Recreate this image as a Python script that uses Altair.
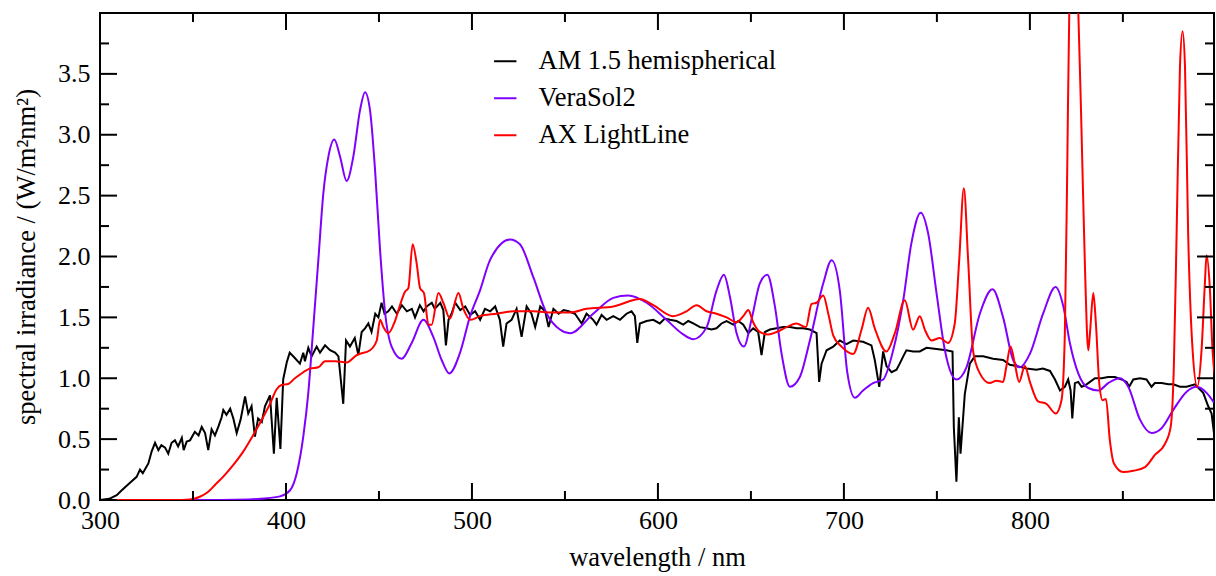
import altair as alt
import pandas as pd

# ---------------- data ----------------
AM15_NM = [300, 305, 309, 311.7, 316, 319.7, 321.5, 323, 326, 327.8, 329.6, 331.4, 333, 335, 336.7,
           338.5, 340.3, 342, 344, 345, 346.6, 348.4, 351, 353, 354.7, 356.5, 358.2, 360, 361.8, 363.6,
           365.4, 366.3, 368, 370, 371.7, 373.5, 375.6, 378, 379.7, 381.5, 383.3, 385, 387, 388.7, 391.4,
           393.5, 395, 397, 398.5, 400.4, 402, 404.5, 407.5, 409.3, 410.2, 412, 413.8, 416.5, 418.3, 421,
           423.7, 426.4, 428.2, 430.8, 432.3, 434.4, 437, 438.9, 440.7, 442.5, 444.3, 446, 448, 449.7,
           451.4, 453, 455, 457, 459.6, 462.3, 465, 467.7, 469.4, 472, 474, 475.7, 478.4, 480, 483, 484.6,
           486, 487.4, 489, 491, 493.7, 496.4, 499, 501.7, 504.4, 507, 509.8, 512.5, 515, 516.8, 518.6,
           521.3, 524, 526.7, 529.4, 532, 534, 536.7, 539.4, 541.2, 543.8, 546.6, 549.3, 552, 555.4, 559,
           561.6, 565.2, 567, 569.7, 572.4, 576, 579.6, 583.1, 585.8, 587.6, 588.9, 590.3, 593.9, 597.5,
           601, 603.7, 606.4, 610, 613.6, 616.3, 619, 622.6, 626.2, 628.8, 631.5, 634.2, 636.9, 640.5,
           643.2, 645.9, 648.6, 651.2, 653.9, 655.7, 657.5, 660.2, 663.8, 667.4, 671, 674.5, 678.1, 681.7,
           685.3, 686.7, 688, 690.7, 694.3, 697.8, 701.4, 705, 710.3, 714.8, 716.6, 719, 721.1, 722.9,
           725.6, 728.3, 730, 731.9, 733.6, 737.2, 740.8, 744.4, 749.8, 755.1, 758.4, 759.1, 760.5, 761.8,
           762.7, 765, 767.7, 770.4, 774.9, 780.2, 785.6, 789.2, 792.8, 798.2, 803.5, 807, 810.8, 813.5,
           816.2, 818.8, 820.6, 821.9, 822.8, 824.2, 826, 827.8, 829.6, 832.3, 835, 838.6, 842.1, 845.7,
           849.3, 852, 853.4, 855.6, 859.2, 862.7, 865.4, 867.2, 870.8, 874.4, 877.1, 880.7, 884.3, 888.7,
           893.2, 895.9, 897.7, 899]
AM15_VAL = [0.00, 0.01, 0.04, 0.08, 0.14, 0.19, 0.25, 0.22, 0.30, 0.40, 0.47, 0.41, 0.45, 0.43, 0.38,
            0.47, 0.49, 0.44, 0.51, 0.41, 0.48, 0.49, 0.56, 0.53, 0.60, 0.55, 0.41, 0.58, 0.53, 0.60,
            0.68, 0.74, 0.70, 0.75, 0.67, 0.55, 0.66, 0.85, 0.71, 0.77, 0.52, 0.67, 0.64, 0.77, 0.86,
            0.38, 0.84, 0.42, 0.99, 1.13, 1.21, 1.17, 1.12, 1.21, 1.14, 1.25, 1.18, 1.26, 1.21, 1.27,
            1.23, 1.21, 1.18, 0.79, 1.31, 1.26, 1.33, 1.19, 1.38, 1.41, 1.45, 1.38, 1.53, 1.50,
            1.62, 1.53, 1.55, 1.59, 1.53, 1.60, 1.55, 1.57, 1.50, 1.60, 1.55, 1.59, 1.62, 1.57, 1.62, 1.56,
            1.27, 1.48, 1.53, 1.62, 1.56, 1.59, 1.52, 1.55, 1.48, 1.57, 1.55, 1.59, 1.48, 1.26, 1.45,
            1.48, 1.57, 1.34, 1.59, 1.53, 1.42, 1.59, 1.55, 1.42, 1.57, 1.53, 1.56, 1.55, 1.53, 1.45,
            1.53, 1.48, 1.44, 1.52, 1.48, 1.51, 1.48, 1.53, 1.55, 1.51, 1.29, 1.45, 1.47, 1.48,
            1.45, 1.49, 1.48, 1.47, 1.44, 1.47, 1.45, 1.42, 1.41, 1.40, 1.41, 1.45, 1.47, 1.44,
            1.47, 1.44, 1.37, 1.41, 1.38, 1.19, 1.38, 1.40, 1.41, 1.42, 1.42, 1.41, 1.41, 1.40,
            1.37, 0.97, 1.12, 1.23, 1.26, 1.31, 1.28, 1.31, 1.30, 1.27, 1.15, 0.93, 1.22, 1.10,
            1.05, 1.07, 1.12, 1.18, 1.23, 1.22, 1.22, 1.25, 1.24, 1.23, 1.22, 0.60, 0.15, 0.68,
            0.38, 0.87, 1.12, 1.18, 1.18, 1.16, 1.15, 1.11, 1.10, 1.08, 1.07, 1.08, 1.06, 0.99,
            0.90, 0.93, 0.99, 0.90, 0.67, 0.96, 0.97, 0.93, 0.94, 0.97, 1.00, 1.00, 1.01, 1.01,
            0.99, 0.97, 0.93, 0.99, 1.00, 0.99, 0.93, 0.96, 0.96, 0.95, 0.95, 0.93, 0.93, 0.95,
            0.88, 0.77, 0.71, 0.55]

VERA_NM = [300, 350, 380, 390, 396.8, 402.2, 405.8, 409.3, 412, 414.7, 417.4, 420.1, 422.8, 426, 429.1,
           432.6, 436.2, 439.8, 442.5, 445.2, 447.9, 450.6, 453.3, 456.8, 462.2, 467.6, 473.9, 479.2,
           483.7, 487.8, 493.6, 499, 504.3, 509.7, 520.5, 525.8, 533, 540.2, 547.3, 552.7, 565.2, 576,
           584, 593.9, 604.6, 613.6, 619, 626.2, 631.5, 635.5, 638.7, 642.3, 646.2, 650.3, 654.8, 658.8,
           662.9, 666.5, 671, 676.3, 681.7, 688.9, 693.4, 697.8, 701.8, 705.9, 710.3, 715.7, 721.1,
           726.5, 731.9, 736.3, 741.3, 745.3, 749.8, 754.3, 760.5, 765.9, 773.1, 779.9, 785.6, 791,
           794.6, 800, 807.1, 813.8, 818, 821.5, 826, 831.4, 836.8, 842.1, 848.4, 852.9, 859.2, 865.4,
           870.8, 877.1, 884.3, 889.6, 895, 899]
VERA_VAL = [0.0, 0.0, 0.005, 0.015, 0.03, 0.08, 0.22, 0.52, 0.88, 1.42, 1.97, 2.52, 2.82, 2.96, 2.82,
            2.62, 2.82, 3.20, 3.35, 3.20, 2.71, 2.05, 1.54, 1.26, 1.16, 1.29, 1.48, 1.34,
            1.15, 1.04, 1.21, 1.51, 1.72, 1.97, 2.14, 2.10, 1.83, 1.53, 1.40, 1.37, 1.53, 1.66,
            1.68, 1.62, 1.48, 1.36, 1.32, 1.42, 1.72, 1.85, 1.67, 1.37, 1.26, 1.48, 1.78, 1.85,
            1.59, 1.20, 0.93, 1.01, 1.31, 1.78, 1.97, 1.72, 1.05, 0.84, 0.90, 0.96, 0.99,
            1.23, 1.64, 2.11, 2.36, 2.19, 1.70, 1.23, 0.99, 1.09, 1.53, 1.73, 1.50, 1.15,
            1.09, 1.20, 1.53, 1.75, 1.59, 1.29, 1.04, 0.92, 0.90, 0.96, 1.00, 0.93, 0.66, 0.55,
            0.59, 0.74, 0.89, 0.93, 0.88, 0.80]

AX_NM = [300, 340, 348.4, 353.7, 358.2, 361.8, 366.3, 371.7, 377, 382.4, 386.9, 391.4, 395, 397.6,
         401.2, 404.8, 407.5, 413, 417.4, 421, 426.4, 432.6, 438, 445.2, 448.8, 450.6, 452.4, 455,
         458.6, 461.3, 464, 465.8, 468.1, 470.3, 472.1, 474.2, 476.6, 478.3, 482, 484.6, 488.2,
         492.7, 495.4, 499.3, 504.3, 513.3, 522.2, 533, 543.8, 552.7, 561.6, 576, 590.3, 597.5,
         608.2, 615.4, 620.8, 626.2, 631.5, 636.9, 642.3, 645.9, 648.6, 651.2, 654.8, 659.3, 663.8,
         669.2, 674.5, 679.6, 682.6, 685.3, 688.9, 691.6, 694.3, 698.7, 705, 709.5, 713, 716.6,
         722.9, 727.4, 732.7, 737.2, 740.8, 743.5, 747.1, 751.6, 756, 759.6, 762, 764.5, 766.8,
         769.5, 773.1, 778.4, 782, 785.6, 787.4, 789.6, 791.9, 794.2, 797.3, 800, 804.4, 808.9,
         813.9, 817, 818.8, 820.1, 821.2, 823.5, 826, 827.8, 829.6, 831.4, 832.3, 834.1, 835.5,
         837.3, 839.1, 840.9, 843, 845.2, 850.2, 855.6, 861.9, 867.2, 872.6, 875.7, 877.4, 878.9,
         880.7, 882.1, 883.4, 885.1, 887.5, 890, 892.3, 894.1, 895, 896.8, 898.2, 899.5]
AX_VAL = [0.0, 0.0, 0.005, 0.027, 0.068, 0.123, 0.192, 0.288, 0.397, 0.534, 0.657, 0.79, 0.91, 0.945,
          0.953, 1.0, 1.03, 1.08, 1.09, 1.14, 1.14, 1.13, 1.19, 1.23, 1.31, 1.48, 1.42, 1.37,
          1.47, 1.60, 1.71, 1.74, 2.10, 1.94, 1.74, 1.70, 1.44, 1.44, 1.70, 1.62, 1.49,
          1.70, 1.57, 1.48, 1.51, 1.53, 1.55, 1.55, 1.54, 1.54, 1.57, 1.59, 1.65, 1.60,
          1.51, 1.55, 1.60, 1.55, 1.53, 1.50, 1.46, 1.51, 1.56, 1.46, 1.38, 1.36, 1.38,
          1.42, 1.45, 1.42, 1.61, 1.62, 1.68, 1.53, 1.35, 1.26, 1.20, 1.40, 1.58, 1.41,
          1.22, 1.37, 1.64, 1.40, 1.51, 1.40, 1.31, 1.33, 1.29, 1.45, 1.97, 2.56, 1.97,
          1.22, 1.04, 0.96, 0.98, 0.97, 1.10, 1.26, 1.12, 0.97, 1.10, 0.97, 0.81, 0.79,
          0.71, 0.82, 1.37, 2.74, 4.03, 4.60, 4.03, 3.01, 1.92, 1.23, 1.37, 1.70, 1.45,
          0.96, 0.82, 0.83, 0.49, 0.30, 0.23, 0.24, 0.27, 0.37, 0.46, 0.60, 1.09, 2.19,
          3.56, 3.85, 3.56, 2.19, 1.23, 0.93, 1.23, 1.78, 2.01, 1.73, 1.23, 1.01]

SERIES = ["AM 1.5 hemispherical", "VeraSol2", "AX LightLine"]
COLORS = ["#000000", "#8000ff", "#ff0000"]

X_MAJOR = [300, 400, 500, 600, 700, 800]
X_MINOR = [350, 450, 550, 650, 750, 850]
Y_MAJOR = [0.0, 0.5, 1.0, 1.5, 2.0, 2.5, 3.0, 3.5]
Y_MINOR = [0.25, 0.75, 1.25, 1.75, 2.25, 2.75, 3.25, 3.75]

# ---------------- layout ----------------
W, H = 1114, 487
FONT = "Liberation Serif"
MAJ, MIN = 17, 9

xs = alt.Scale(domain=[300, 899], nice=False, zero=False)
ys = alt.Scale(domain=[0, 4.0], nice=False, zero=False)

x_axis = alt.Axis(values=X_MAJOR, title="wavelength / nm", labelFlush=False, format="d",
                  labelPadding=7, titlePadding=11)
y_axis = alt.Axis(values=Y_MAJOR, title="spectral irradiance / (W/m²nm²)", format=".1f",
                  labelPadding=10, titlePadding=17)

color = alt.Color("series:N", scale=alt.Scale(domain=SERIES, range=COLORS), title=None,
                  legend=alt.Legend(orient="none", legendX=392, legendY=35, symbolType="stroke",
                                    symbolStrokeWidth=2, symbolSize=500, labelFont=FONT,
                                    labelFontSize=26.5, labelOffset=20, rowPadding=10,
                                    labelLimit=500, labelColor="black"))


def series_layer(nm, val, name, interp):
    df = pd.DataFrame({"nm": nm, "val": val, "series": name})
    return alt.Chart(df).mark_line(strokeWidth=2, clip=True, interpolate=interp).encode(
        x=alt.X("nm:Q", scale=xs, axis=x_axis),
        y=alt.Y("val:Q", scale=ys, axis=y_axis),
        color=color,
    )


def xtick_layer(vals, length, top):
    df = pd.DataFrame({"t": vals})
    y1, y2 = (0, length) if top else (H, H - length)
    return alt.Chart(df).mark_rule(color="black", strokeWidth=2).encode(
        x=alt.X("t:Q", scale=xs, axis=x_axis), y=alt.value(y1), y2=alt.value(y2))


def ytick_layer(vals, length, right):
    df = pd.DataFrame({"t": vals})
    x1, x2 = (W, W - length) if right else (0, length)
    return alt.Chart(df).mark_rule(color="black", strokeWidth=2).encode(
        y=alt.Y("t:Q", scale=ys, axis=y_axis), x=alt.value(x1), x2=alt.value(x2))


layers = [
    series_layer(AM15_NM, AM15_VAL, SERIES[0], "linear"),
    series_layer(VERA_NM, VERA_VAL, SERIES[1], "monotone"),
    series_layer(AX_NM, AX_VAL, SERIES[2], "monotone"),
    xtick_layer(X_MAJOR, MAJ, False), xtick_layer(X_MINOR, MIN, False),
    xtick_layer(X_MAJOR, MAJ, True), xtick_layer(X_MINOR, MIN, True),
    ytick_layer(Y_MAJOR, MAJ, False), ytick_layer(Y_MINOR, MIN, False),
    ytick_layer(Y_MAJOR, MAJ, True), ytick_layer(Y_MINOR, MIN, True),
]

chart = alt.layer(*layers).properties(
    width=W, height=H,
    autosize=alt.AutoSizeParams(type="none"),
    padding={"left": 100, "top": 13, "right": 2, "bottom": 76},
    background="white",
).configure_view(
    stroke="black", strokeWidth=2
).configure_axis(
    domain=False, ticks=False, grid=False,
    labelFont=FONT, labelFontSize=26, labelColor="black",
    titleFont=FONT, titleFontSize=26.5, titleFontWeight="normal", titleColor="black",
)

chart.save("out.html", embed_options={"renderer": "svg", "actions": False})
